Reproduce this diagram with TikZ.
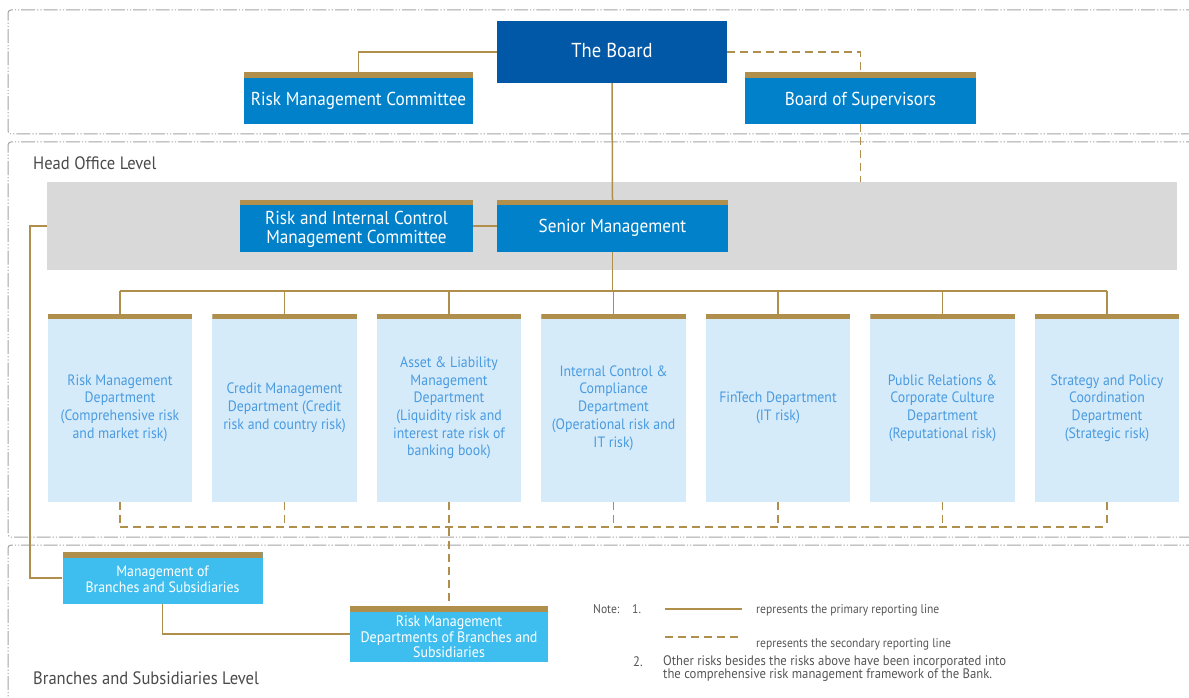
\documentclass[tikz,border=0pt]{standalone}
\usepackage{fontspec}
\setmainfont{PT Sans}[FakeStretch=0.92]
\definecolor{boardblue}{HTML}{0058A6}
\definecolor{midblue}{HTML}{0081CA}
\definecolor{brcyan}{HTML}{3EBEEF}
\definecolor{deptfill}{HTML}{D5EBFA}
\definecolor{depttext}{HTML}{4A9BE0}
\definecolor{gold}{HTML}{B08F4C}
\definecolor{bandgray}{HTML}{D9D9D9}
\definecolor{framegray}{HTML}{A3A3A3}
\definecolor{notegray}{HTML}{555555}
\definecolor{levelgray}{HTML}{4A4A4A}
\newcommand{\shiftby}[2]{\raisebox{#1}[\height][\depth]{#2}}
\tikzset{
  frame/.style={draw=framegray, line width=1pt, rounded corners=3pt,
    dash pattern=on 14pt off 2pt on 1.2pt off 2pt on 1.2pt off 2pt},
  prim/.style={draw=gold, line width=1.5pt},
  sec/.style={draw=gold, line width=1.5pt, dash pattern=on 8pt off 5pt},
  boxbase/.style={rectangle, inner sep=0pt, align=center, text=white},
  goldtop/.style={path picture={\fill[gold] (path picture bounding box.north west) rectangle ([yshift=-#1]path picture bounding box.north east);}},
  bluebox/.style={boxbase, fill=midblue, goldtop=6pt, font=\fontsize{18.7}{19}\selectfont},
  cyanbox/.style={boxbase, fill=brcyan, goldtop=6pt, font=\fontsize{15}{16}\selectfont},
  deptbox/.style={boxbase, fill=deptfill, goldtop=5pt, text=depttext,
    minimum width=144.5pt, minimum height=188pt,
    font=\fontsize{15}{17.7}\selectfont},
  level/.style={anchor=west, inner sep=0pt, text=levelgray, font=\fontsize{18}{20}\selectfont},
  note/.style={anchor=west, inner sep=0pt, text=notegray, font=\fontsize{12.6}{14}\selectfont},
}
\begin{document}
\begin{tikzpicture}[x=1pt,y=-1pt]
\useasboundingbox (0,0) rectangle (1189,698);
% frames
\draw[frame] (1200,10) -- (8,10) -- (8,134) -- (1200,134);
\draw[frame] (1200,142) -- (8,142) -- (8,537) -- (1200,537);
\draw[frame] (1200,545) -- (8,545) -- (8,710);
% level labels
\node[level] (holevel) at (33,163) {Head Office Level};
\node[level] (bslevel) at (33,678) {Branches and Subsidiaries Level};
% gray band
\node[rectangle, fill=bandgray, inner sep=0pt, minimum width=1130pt, minimum height=88pt] (band) at (612,226) {};
% top boxes
\node[boxbase, fill=boardblue, minimum width=230pt, minimum height=62pt, font=\fontsize{20.2}{21}\selectfont] (board) at (612,52) {\shiftby{1.5pt}{The Board}};
\node[bluebox, minimum width=229pt, minimum height=52pt] (rmc) at (358.5,98) {\shiftby{-2.5pt}{Risk Management Committee}};
\node[bluebox, minimum width=231pt, minimum height=52pt] (bos) at (860.5,98) {\shiftby{-2.5pt}{Board of Supervisors}};
\node[bluebox, minimum width=233pt, minimum height=52pt, goldtop=5pt] (ricmc) at (356.5,226) {\shiftby{-4pt}{\begin{tabular}{@{}c@{}}Risk and Internal Control\\[-0.5pt]Management Committee\end{tabular}}};
\node[bluebox, minimum width=231pt, minimum height=52pt, goldtop=5pt] (senior) at (612.5,226) {\shiftby{-2pt}{Senior Management}};
% departments
\node[deptbox] (d1) at (120,408) {Risk Management\\Department\\(Comprehensive risk\\and market risk)};
\node[deptbox] (d2) at (284.5,408) {Credit Management\\Department (Credit\\risk and country risk)};
\node[deptbox] (d3) at (449,408) {Asset \& Liability\\Management\\Department\\(Liquidity risk and\\interest rate risk of\\banking book)};
\node[deptbox] (d4) at (613.5,408) {Internal Control \&\\Compliance\\Department\\(Operational risk and\\IT risk)};
\node[deptbox] (d5) at (778,408) {FinTech Department\\(IT risk)};
\node[deptbox] (d6) at (942.5,408) {Public Relations \&\\Corporate Culture\\Department\\(Reputational risk)};
\node[deptbox] (d7) at (1107,408) {Strategy and Policy\\Coordination\\Department\\(Strategic risk)};
% branches
\node[cyanbox, minimum width=200pt, minimum height=52pt] (mbs) at (162.5,578) {\shiftby{-3pt}{\begin{tabular}{@{}c@{}}Management of\\Branches and Subsidiaries\end{tabular}}};
\node[cyanbox, minimum width=198pt, minimum height=56pt, font=\fontsize{15.2}{15.5}\selectfont] (rmdb) at (449,634) {\shiftby{-5pt}{\begin{tabular}{@{}c@{}}Risk Management\\Departments of Branches and\\Subsidiaries\end{tabular}}};
% coordinates
\coordinate (bosend) at (860.5,182);
\coordinate (busL) at (120,291);
\coordinate (busR) at (1107,291);
\coordinate (busM) at (612.5,291);
\coordinate (dbusL) at (120,527);
\coordinate (dbusR) at (1107,527);
\coordinate (leftTop) at (30,226);
\coordinate (leftBot) at (30,578);
% primary lines
\draw[prim] (board.west) -| (rmc.north);
\draw[prim] (board.south) -- (senior.north);
\draw[prim] (ricmc.east) -- (senior.west);
\draw[prim] (senior.south) -- (busM);
\draw[prim] (busL) -- (busR);
\foreach \d in {d1,d2,d3,d4,d5,d6,d7} { \draw[prim] (\d.north) -- (\d.north |- busL); }
\draw[prim] (band.west |- leftTop) -- (leftTop) -- (leftBot) -- (mbs.west);
\draw[prim] (mbs.south) |- (rmdb.west);
% secondary lines
\draw[sec] (board.east) -| (bos.north);
\draw[sec] (bos.south) -- (bosend);
\draw[sec] (dbusL) -- (dbusR);
\foreach \d in {d1,d2,d4,d5,d6,d7} { \draw[sec] (\d.south) -- (\d.south |- dbusL); }
\draw[sec] (d3.south) -- (rmdb.north);
% notes
\node[note] (notehead) at (593,609) {Note:};
\node[note] (note1num) at (632,609) {1.};
\coordinate (l1a) at (665,609); \coordinate (l1b) at (742,609);
\draw[prim, line width=1.2pt] (l1a) -- (l1b);
\node[note] (n1) at (756,610) {represents the primary reporting line};
\coordinate (l2a) at (665,637); \coordinate (l2b) at (742,637);
\draw[sec, line width=1.2pt] (l2a) -- (l2b);
\node[note] (n2) at (756,644) {represents the secondary reporting line};
\node[note, font=\fontsize{13.8}{13.5}\selectfont] (n3num) at (633,662) {2.};
\node[note, align=left, font=\fontsize{13.8}{13.5}\selectfont] (n3) at (663,668.5) {Other risks besides the risks above have been incorporated into\\the comprehensive risk management framework of the Bank.};
\end{tikzpicture}
\end{document}
